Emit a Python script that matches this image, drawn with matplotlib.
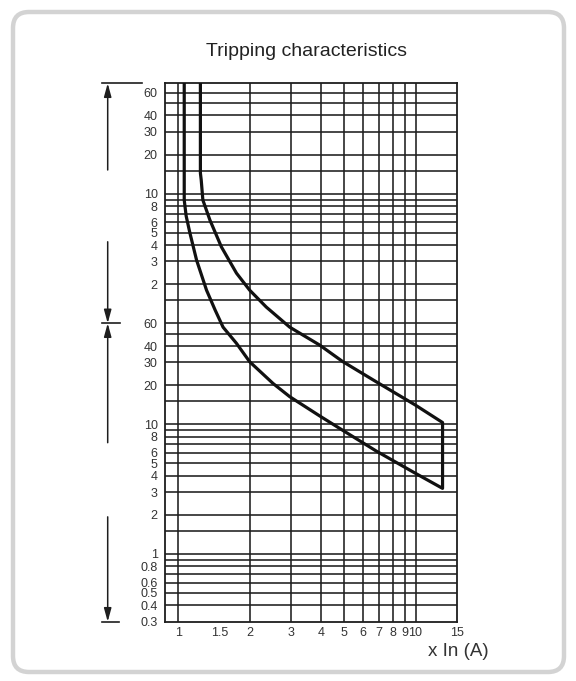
import matplotlib
matplotlib.use("Agg")
import matplotlib.pyplot as plt
import matplotlib.transforms as mtransforms
from matplotlib.lines import Line2D
from matplotlib.patches import FancyBboxPatch
from matplotlib.ticker import NullLocator

# multiples of In / trip time in seconds
upper_x = [1.24, 1.24, 1.25, 1.27, 1.36, 1.52, 1.76, 2.0, 2.35, 2.95, 3.94, 4.92, 6.84, 9.95, 13.0]
upper_t = [5000, 864, 763, 535, 375, 233, 146, 108, 80, 56, 40.8, 30.5, 21.2, 14.1, 10.3]
lower_x = [1.06, 1.06, 1.08, 1.12, 1.195, 1.316, 1.43, 1.545, 1.76, 2.0, 2.51, 2.95, 3.94, 4.92, 6.84, 9.95, 13.0]
lower_t = [5000, 535, 403, 298, 184, 108, 76, 56, 42, 30.3, 20.6, 16.3, 11.6, 9.0, 6.2, 4.2, 3.2]

# grid lines (seconds) and axis labels
grid_t = [0.4, 0.5, 0.6, 0.7, 0.8, 0.9, 1, 1.5, 2, 3, 4, 5, 6, 7, 8, 9, 10, 15, 20, 30, 40, 50, 60,
          90, 120, 180, 240, 300, 360, 420, 480, 540, 600, 900, 1200, 1800, 2400, 3000, 3600]
grid_x = [1, 2, 3, 4, 5, 6, 7, 8, 9, 10]
ytick_t = [0.3, 0.4, 0.5, 0.6, 0.8, 1, 2, 3, 4, 5, 6, 8, 10, 20, 30, 40, 60,
           120, 180, 240, 300, 360, 480, 600, 1200, 1800, 2400, 3600]
ytick_lab = ["0.3", "0.4", "0.5", "0.6", "0.8", "1", "2", "3", "4", "5", "6", "8", "10", "20", "30", "40", "60",
             "2", "3", "4", "5", "6", "8", "10", "20", "30", "40", "60"]
xtick_x = [1, 1.5, 2, 3, 4, 5, 6, 7, 8, 9, 10, 15]
xtick_lab = ["1", "1.5", "2", "3", "4", "5", "6", "7", "8", "9", "10", "15"]

T_TOP = 4250
ink = "#1e1e1e"
txt = "#333333"
plt.rcParams['font.family'] = ['Liberation Sans', 'DejaVu Sans']

W, H = 576, 681
fig = plt.figure(figsize=(W / 100, H / 100), dpi=100)

# rounded light grey frame
frame = FancyBboxPatch((13 / 100, (H - 672) / 100), (564 - 13) / 100, (672 - 12) / 100,
                       boxstyle="round,pad=0,rounding_size=0.16",
                       transform=fig.dpi_scale_trans, facecolor="white",
                       edgecolor="#d3d3d3", linewidth=3.2, zorder=-10)
fig.add_artist(frame)

ax = fig.add_axes([164.7 / W, (H - 621.7) / H, (457.3 - 164.7) / W, (621.7 - 83.3) / H])
ax.set_xscale('log')
ax.set_yscale('log')
ax.set_xlim(0.877, 15)
ax.set_ylim(0.3, T_TOP)
ax.patch.set_alpha(0)

for t in grid_t:
    ax.axhline(t, color=ink, lw=1.15, zorder=1)
for x in grid_x:
    ax.axvline(x, color=ink, lw=1.15, zorder=1)
for s in ax.spines.values():
    s.set_color(ink)
    s.set_linewidth(1.3)

# tripping band
ax.plot(upper_x + lower_x[::-1], upper_t + lower_t[::-1], color="#111111", lw=2.3,
        solid_joinstyle='round', zorder=3)

ax.set_xticks(xtick_x, xtick_lab)
ax.set_yticks(ytick_t, ytick_lab)
ax.xaxis.set_minor_locator(NullLocator())
ax.yaxis.set_minor_locator(NullLocator())
ax.tick_params(axis='x', length=0, pad=4.0, labelsize=9, labelcolor=txt)
ax.tick_params(axis='y', length=0, pad=5.0, labelsize=9, labelcolor=txt)

fig.text(307 / W, 1 - 52 / H, "Tripping characteristics", ha='center', va='center',
         fontsize=14, color="#222222")
fig.text(489 / W, 1 - 652 / H, "x In (A)", ha='right', va='center', fontsize=13.5,
         color=txt)

# range arrows on the left
blend = mtransforms.blended_transform_factory(fig.transFigure, ax.transData)
ax_x = 107.7 / W
arrow_kw = dict(arrowstyle='-|>,head_length=0.8,head_width=0.22', color=ink, lw=1.1,
                shrinkA=0, shrinkB=0)
for start, end in [(912, T_TOP), (255, 60), (7.2, 60), (1.93, 0.3)]:
    ax.annotate("", xy=(ax_x, end), xytext=(ax_x, start), xycoords=blend,
                textcoords=blend, arrowprops=arrow_kw, annotation_clip=False)
for x0, x1, t in [(102, 142, T_TOP), (102, 120, 60), (102, 119, 0.3)]:
    fig.add_artist(Line2D([x0 / W, x1 / W], [t, t], transform=blend, color=ink, lw=1.2))

fig.savefig("out.png", dpi=100)
